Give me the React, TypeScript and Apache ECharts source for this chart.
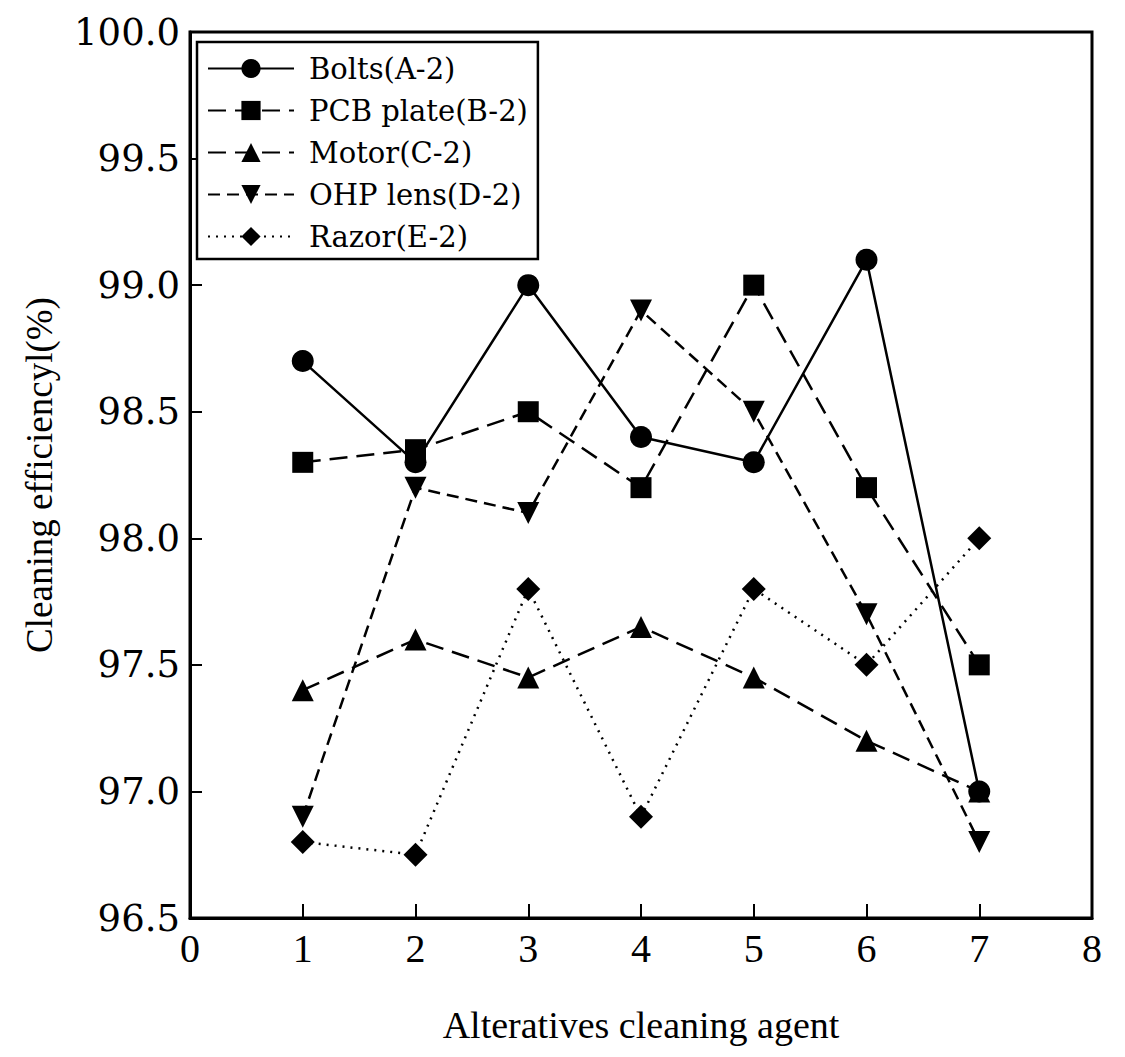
import React, { useEffect, useRef } from "react";
import * as echarts from "echarts";

const xValues = [1, 2, 3, 4, 5, 6, 7];
const boltsA2 = [98.7, 98.3, 99.0, 98.4, 98.3, 99.1, 97.0];
const pcbB2 = [98.3, 98.35, 98.5, 98.2, 99.0, 98.2, 97.5];
const motorC2 = [97.4, 97.6, 97.45, 97.65, 97.45, 97.2, 97.0];
const ohpD2 = [96.9, 98.2, 98.1, 98.9, 98.5, 97.7, 96.8];
const razorE2 = [96.8, 96.75, 97.8, 96.9, 97.8, 97.5, 98.0];

const seriesNames = ["Bolts(A-2)", "PCB plate(B-2)", "Motor(C-2)", "OHP lens(D-2)", "Razor(E-2)"];

const WIDE = "DejaVu Serif";
const NARROW = "Liberation Serif";

export default function App() {
  const ref = useRef<HTMLDivElement>(null);
  useEffect(() => {
    if (!ref.current) return;
    const chart = echarts.init(ref.current, null, { renderer: "svg" });
    const pair = (arr: number[]) => arr.map((v, i) => [xValues[i], v]);
    const mk = (
      name: string,
      data: number[],
      symbol: string,
      size: number,
      type: any,
      rotate = 0
    ) => ({
      name,
      type: "line",
      data: pair(data),
      symbol,
      symbolSize: size,
      symbolRotate: rotate,
      showSymbol: true,
      itemStyle: { color: "#000" },
      lineStyle: { color: "#000", width: 2.5, type },
      z: 3,
    });
    chart.setOption({
      animation: false,
      backgroundColor: "#fff",
      grid: {
        left: 190,
        right: 33,
        top: 32,
        bottom: 139,
        show: true,
        borderColor: "#000",
        borderWidth: 3,
      },
      legend: {
        left: 197,
        top: 42,
        orient: "vertical",
        padding: [12, 10, 8, 10],
        itemGap: 13,
        itemWidth: 86,
        itemHeight: 24,
        borderColor: "#000",
        borderWidth: 2.5,
        backgroundColor: "#fff",
        textStyle: { fontFamily: WIDE, fontSize: 29, color: "#000", padding: [0, 0, 0, 10] },
        data: seriesNames,
      },
      xAxis: {
        type: "value",
        min: 0,
        max: 8,
        interval: 1,
        name: "Alteratives cleaning agent",
        nameLocation: "middle",
        nameGap: 88,
        nameTextStyle: { fontFamily: NARROW, fontSize: 38, color: "#000" },
        axisLine: { lineStyle: { color: "#000", width: 3 } },
        axisTick: { inside: true, length: 14, lineStyle: { color: "#000", width: 2 } },
        axisLabel: { fontFamily: NARROW, fontSize: 40, color: "#000", margin: 10 },
        splitLine: { show: false },
      },
      yAxis: {
        type: "value",
        min: 96.5,
        max: 100,
        interval: 0.5,
        name: "Cleaning efficiencyl(%)",
        nameLocation: "middle",
        nameGap: 132,
        nameTextStyle: { fontFamily: NARROW, fontSize: 37, color: "#000" },
        axisLine: { lineStyle: { color: "#000", width: 3 } },
        axisTick: { inside: true, length: 12, lineStyle: { color: "#000", width: 2 } },
        axisLabel: {
          fontFamily: WIDE,
          fontSize: 37,
          color: "#000",
          margin: 10,
          formatter: (v: number) => v.toFixed(1),
        },
        splitLine: { show: false },
      },
      series: [
        mk(seriesNames[0], boltsA2, "circle", 22, "solid"),
        mk(seriesNames[1], pcbB2, "rect", 21, [18, 9]),
        mk(seriesNames[2], motorC2, "triangle", 22, [18, 9]),
        mk(seriesNames[3], ohpD2, "triangle", 22, [12, 7], 180),
        mk(seriesNames[4], razorE2, "diamond", 24, [2, 6]),
      ],
    });
    return () => chart.dispose();
  }, []);
  return <div ref={ref} style={{ width: 1125, height: 1057, margin: -8 }} />;
}
